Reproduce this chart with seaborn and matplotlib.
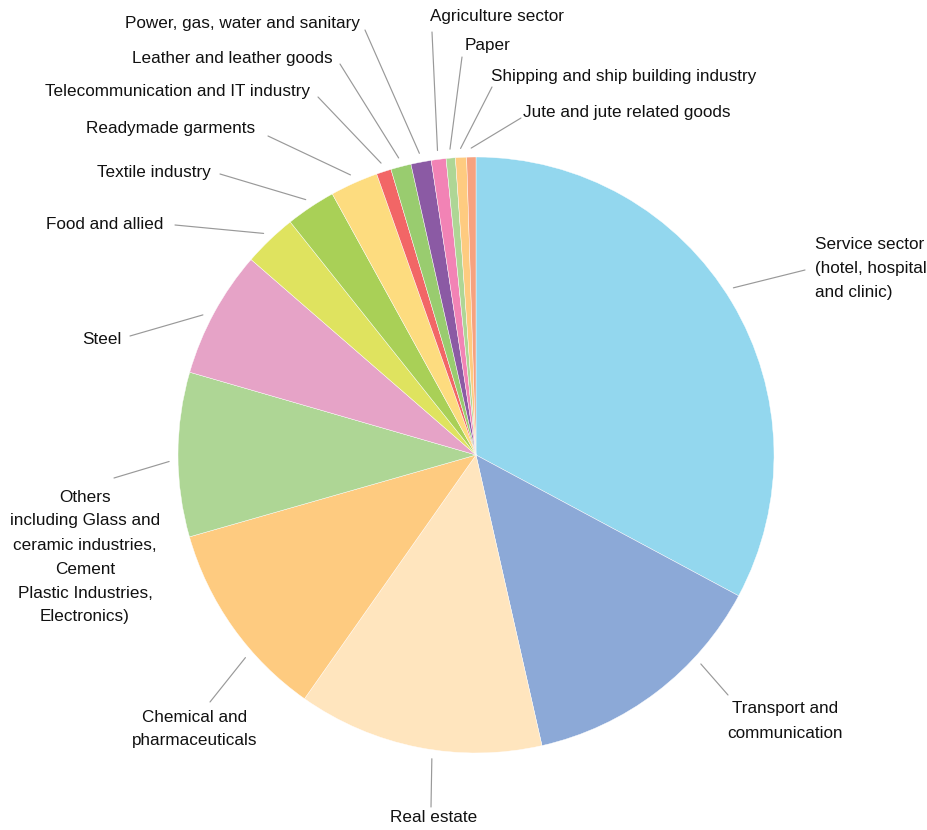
import numpy as np
import matplotlib.pyplot as plt
import seaborn as sns

# Sectors, clockwise from 12 o'clock
sectors = ['Service sector\n(hotel, hospital\nand clinic)', 'Transport and\ncommunication',
           'Real estate', 'Chemical and\npharmaceuticals',
           'Others\nincluding Glass and\nceramic industries,\nCement\nPlastic Industries,\nElectronics)',
           'Steel', 'Food and allied', 'Textile industry', 'Readymade garments',
           'Telecommunication and IT industry', 'Leather and leather goods',
           'Power, gas, water and sanitary', 'Agriculture sector', 'Paper',
           'Shipping and ship building industry', 'Jute and jute related goods']
shares = [32.8, 13.6, 13.3, 10.8, 8.9, 6.9, 2.9, 2.7, 2.6, 0.8, 1.1, 1.1, 0.8, 0.5, 0.6, 0.5]
colors = ['#93D7EE', '#8CA9D7', '#FFE5BE', '#FECB80', '#AED695', '#E6A3C7', '#DFE35F',
          '#A9D057', '#FDDC7F', '#F26666', '#99CC6F', '#8B5AA4', '#F283B5', '#AED695',
          '#FECB80', '#F6A27F']

# label layout in pixels: (text x, text y, ha, line end x, line end y, angle shift of line start)
layout = [(815, 268, 'left', 805, 270, 2.1), (785, 721, 'center', 728, 695, 9.8),
          (434, 817, 'center', 431, 807, 2.9), (195, 729, 'center', 210, 702, 5.9),
          (85, 557, 'center', 114, 478, 1.3), (122, 339, 'right', 130, 336, 1.4),
          (163, 224, 'right', 175, 225, 0), (211, 172, 'right', 220, 174, 0),
          (255, 128, 'right', 268, 136, 0), (310, 91, 'right', 318, 97, 0),
          (333, 58, 'right', 340, 64, 0), (360, 23, 'right', 365, 30, 0),
          (430, 16, 'left', 432, 32, 0), (465, 45, 'left', 462, 57, 0),
          (491, 76, 'left', 492, 87, 0), (523, 112, 'left', 521, 118, 0)]

sns.set_theme(style='white')
plt.rcParams['font.family'] = ['Liberation Sans Narrow', 'Liberation Sans', 'DejaVu Sans']

W, H = 928, 830
cx, cy, R = 476, 455, 298
fig = plt.figure(figsize=(W / 100, H / 100), dpi=100)
ax = fig.add_axes([0, 0, 1, 1])

wedges, _ = ax.pie(shares, colors=colors, startangle=90, counterclock=False, radius=1,
                   wedgeprops=dict(edgecolor='white', linewidth=0.3))

# pie resets limits, so set them afterwards
ax.set_xlim(-cx / R, (W - cx) / R)
ax.set_ylim((cy - H) / R, cy / R)
ax.set_aspect('equal')
ax.axis('off')


def px(x, y):
    return (x - cx) / R, (cy - y) / R


for w, lab, (tx, ty, ha, lx, ly, shift) in zip(wedges, sectors, layout):
    mid = np.deg2rad((w.theta1 + w.theta2) / 2 + shift)
    sx, sy = 1.03 * np.cos(mid), 1.03 * np.sin(mid)
    ex, ey = px(lx, ly)
    ax.plot([sx, ex], [sy, ey], color='#999999', lw=0.85)
    x, y = px(tx, ty)
    ax.text(x, y, lab, ha=ha, va='center', fontsize=12.3, color='#111111',
            linespacing=1.75, multialignment='center' if ha == 'center' else 'left')

fig.savefig('out.png', dpi=100)
